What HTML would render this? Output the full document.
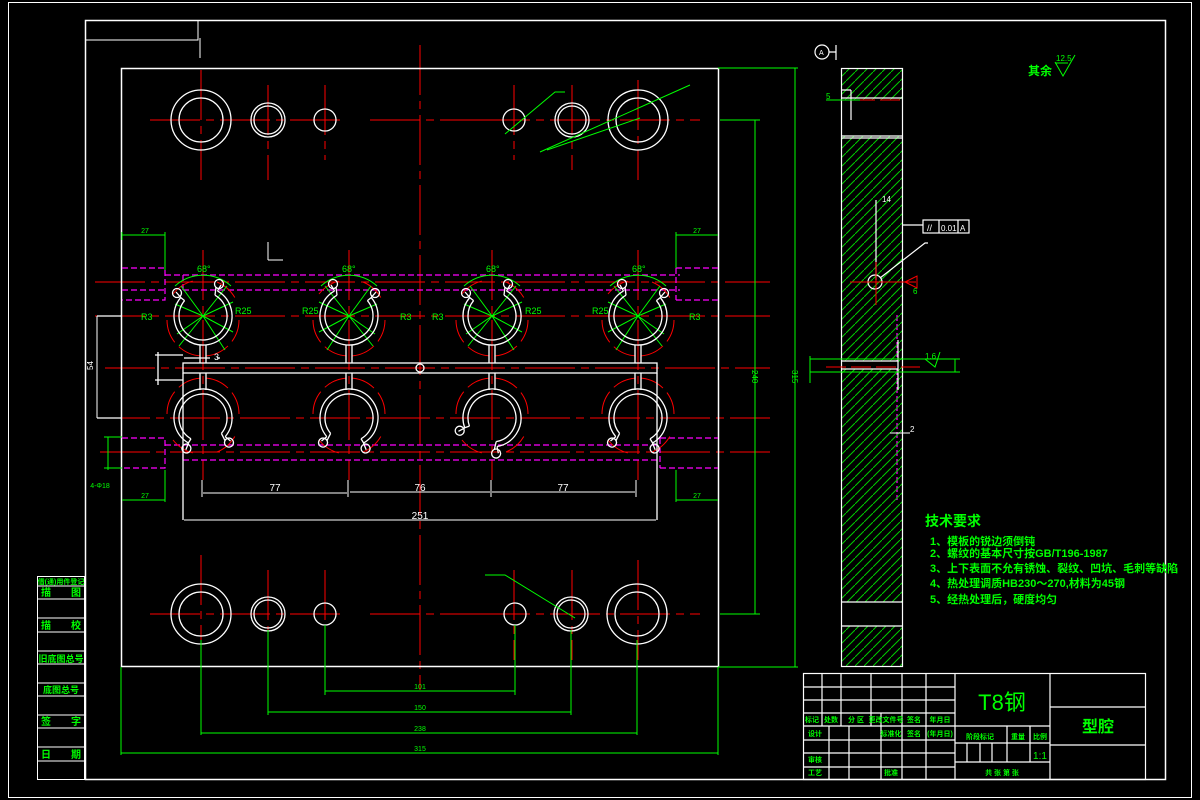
<!DOCTYPE html>
<html><head><meta charset="utf-8"><style>
html,body{margin:0;padding:0;background:#000;}
svg{display:block}
text{font-family:"Liberation Sans","Noto Sans CJK SC",sans-serif;}
</style></head><body>
<svg width="1200" height="800" viewBox="0 0 1200 800" xmlns="http://www.w3.org/2000/svg">
<defs>
<pattern id="h" width="9" height="9" patternUnits="userSpaceOnUse">
<path d="M-2,11 L11,-2" stroke="#0c0" stroke-width="1"/>
</pattern>
<g id="ring" fill="none" stroke="#fff" stroke-width="1.3">
<path d="M14.5,-25.1 A29,29 0 1 1 -22.2,-18.6"/>
<path d="M12,-20.8 A24,24 0 1 1 -18.4,-15.4"/>
<path d="M14.5,-25.1 L18,-31 M12,-20.8 L13,-29 M-22.2,-18.6 L-27,-24 M-18.4,-15.4 L-23,-19"/>
<circle cx="16" cy="-32" r="4.5"/><circle cx="-26" cy="-23" r="4.5"/>
</g>
<g id="redarc" fill="none" stroke="#f00" stroke-width="1" stroke-dasharray="24 6">
<path d="M-36,4 A36,36 0 0 0 36,4"/>
<path d="M-30,-22 A37,37 0 0 1 -10,-35"/>
<path d="M14,-34 A37,37 0 0 1 34,-14"/>
</g>
<g id="grn" stroke="#0f0" stroke-width="1" fill="none">
<path d="M0,0 L-22,-30 M0,0 L24,-30 M0,0 L-28,-12 M0,0 L-26,18 M0,0 L30,-14 M0,0 L30,16 M0,0 L22,34 M0,0 L-24,30"/>
<path d="M-28,-30 A42,42 0 0 1 28,-30"/>
</g>
</defs>

<rect x="8.5" y="2.5" width="1183" height="795" fill="none" stroke="#fff" stroke-width="1"/>
<rect x="85.5" y="20.5" width="1080" height="759" fill="none" stroke="#fff" stroke-width="1.5"/>
<path d="M85,40 H198 V20 M200,38 V58" stroke="#fff" stroke-width="1" fill="none"/>

<g stroke="#fff" stroke-width="1" fill="none">
<rect x="37.5" y="576.5" width="47" height="203"/>
<path d="M37,586H85 M37,599H85 M37,618H85 M37,632H85 M37,651H85 M37,664H85 M37,683H85 M37,696H85 M37,715H85 M37,728H85 M37,747H85 M37,761H85"/>
</g>
<g fill="#0f0" font-size="10" font-weight="bold" text-anchor="middle">
<text x="61" y="584" font-size="7">借(通)用件登记</text>
<text x="61" y="596">描　　图</text>
<text x="61" y="629">描　　校</text>
<text x="61" y="662" font-size="9">旧底图总号</text>
<text x="61" y="693" font-size="9">底图总号</text>
<text x="61" y="725">签　　字</text>
<text x="61" y="758">日　　期</text>
</g>

<g stroke="#f00" stroke-width="1" fill="none" stroke-dasharray="50 6 8 6">
<path d="M420,45 V690"/>
<path d="M150,120 H345 M370,120 H530 M150,614 H345 M370,614 H530"/>
<path d="M480,120 H700 M480,614 H700"/>
<path d="M201,70 V180 M268,85 V180 M325,85 V160 M514,85 V160 M572,85 V170 M638,80 V180"/>
<path d="M201,555 V660 M268,570 V660 M325,570 V660 M514,570 V660 M572,570 V660 M638,560 V660"/>
<path d="M95,282 H770 M95,316 H770 M105,368 H770 M100,418 H770 M100,452 H770"/>
<path d="M203,250 V480 M349,250 V480 M492,250 V480 M638,250 V480"/>
</g>
<path d="M720,120 H760" stroke="#f00" stroke-width="1"/>

<rect x="121.5" y="68.5" width="597" height="598" fill="none" stroke="#fff" stroke-width="1.5"/>
<g fill="none" stroke="#fff" stroke-width="1.3">
<circle cx="201" cy="120" r="30"/><circle cx="201" cy="120" r="22"/>
<circle cx="268" cy="120" r="17"/><circle cx="268" cy="120" r="14"/>
<circle cx="325" cy="120" r="11"/>
<circle cx="514" cy="120" r="11"/>
<circle cx="572" cy="120" r="17"/><circle cx="572" cy="120" r="14"/>
<circle cx="638" cy="120" r="30"/><circle cx="638" cy="120" r="22"/>
<circle cx="201" cy="614" r="30"/><circle cx="201" cy="614" r="22"/>
<circle cx="268" cy="614" r="17"/><circle cx="268" cy="614" r="14"/>
<circle cx="325" cy="614" r="11"/>
<circle cx="515" cy="614" r="11"/>
<circle cx="571" cy="614" r="17"/><circle cx="571" cy="614" r="14"/>
<circle cx="637" cy="614" r="30"/><circle cx="637" cy="614" r="22"/>
</g>
<path d="M268,260 H283 M268,242 V260" stroke="#fff" fill="none"/>

<g stroke="#f0f" stroke-width="1.2" fill="none" stroke-dasharray="6 3">
<path d="M122,268 H165 V300 H122 M165,275 H183 V290 M122,290 H165"/>
<path d="M183,275 H680 M183,290 H680"/>
<path d="M122,438 H165 V468 H122 M165,445 H183 V460 M183,445 H660 M183,460 H660 M660,438 H718 M660,468 H718 M660,438 V468"/>
<path d="M676,268 H718 M676,300 H718 M676,268 V300"/>
<path d="M897,315 V500"/>
</g>

<g>
<use href="#redarc" transform="translate(203,316)"/><use href="#redarc" transform="translate(349,316)"/>
<use href="#redarc" transform="translate(492,316)"/><use href="#redarc" transform="translate(638,316)"/>
<use href="#redarc" transform="translate(203,418) scale(1,-1)"/><use href="#redarc" transform="translate(349,418) scale(1,-1)"/>
<use href="#redarc" transform="translate(492,418) scale(1,-1)"/><use href="#redarc" transform="translate(638,418) scale(1,-1)"/>
<use href="#grn" transform="translate(203,316)"/><use href="#grn" transform="translate(349,316) scale(-1,1)"/>
<use href="#grn" transform="translate(492,316)"/><use href="#grn" transform="translate(638,316) scale(-1,1)"/>
<use href="#ring" transform="translate(203,316)"/><use href="#ring" transform="translate(349,316) scale(-1,1)"/>
<use href="#ring" transform="translate(492,316)"/><use href="#ring" transform="translate(638,316) scale(-1,1)"/>
<use href="#ring" transform="translate(203,418) scale(1,-1) rotate(20)"/><use href="#ring" transform="translate(349,418) scale(-1,-1) rotate(20)"/>
<use href="#ring" transform="translate(492,418) scale(1,-1) rotate(-20)"/><use href="#ring" transform="translate(638,418) scale(-1,-1) rotate(20)"/>
</g>
<g fill="#0f0" font-size="9">
<text x="197" y="272">68°</text><text x="342" y="272">68°</text><text x="486" y="272">68°</text><text x="632" y="272">68°</text>
<text x="235" y="314">R25</text><text x="302" y="314">R25</text><text x="525" y="314">R25</text><text x="592" y="314">R25</text>
<text x="141" y="320">R3</text><text x="400" y="320">R3</text><text x="432" y="320">R3</text><text x="689" y="320">R3</text>
</g>

<g stroke="#fff" stroke-width="1.3" fill="none">
<rect x="183" y="363" width="474" height="10"/>
<path d="M200,345 V363 M206,345 V363 M346,345 V363 M352,345 V363 M489,345 V363 M495,345 V363 M635,345 V363 M641,345 V363"/>
<path d="M200,373 V390 M206,373 V390 M346,373 V390 M352,373 V390 M489,373 V390 M495,373 V390 M635,373 V390 M641,373 V390"/>
<path d="M183,373 V520 M657,373 V520"/>
<path d="M155,355 H183 M155,380 H183 M158,352 V385 M97,316 H122 M97,418 H122"/>
<circle cx="420" cy="368" r="4"/>
<path d="M184,358 H210 M217,358 H220"/>
</g>
<text x="214" y="360" fill="#fff" font-size="9">3</text>

<g stroke="#fff" stroke-width="1" fill="none">
<path d="M202,480 V497 M348,480 V497 M491,480 V497 M636,480 V497"/>
<path d="M203,493 H347 M350,492 H490 M492,492 H635 M184,520 H656"/>
</g>
<g fill="#fff" font-size="10" text-anchor="middle">
<text x="275" y="491">77</text><text x="420" y="491">76</text><text x="563" y="491">77</text><text x="420" y="519">251</text>
</g>
<path d="M97,316 V418" stroke="#fff" fill="none"/>
<text x="93" y="370" fill="#fff" font-size="8" transform="rotate(-90 93 370)">54</text>

<g stroke="#0f0" stroke-width="1" fill="none">
<path d="M122,235 H165 M165,232 V270 M122,232 V240"/>
<path d="M676,235 H718 M676,232 V268"/>
<path d="M122,500 H165 M165,470 V502 M676,500 H718 M676,470 V502"/>
<path d="M108,437 V470 M104,437 H122 M104,468 H122"/>
<path d="M718,68 H798 M795,68 V667 M718,667 H798"/>
<path d="M720,120 H760 M755,120 V614 M720,614 H760"/>
<path d="M121,667 V755 M121,753 H718 M718,667 V755"/>
<path d="M201,640 V735 M201,733 H637 M637,640 V735"/>
<path d="M268,630 V715 M268,712 H571 M571,630 V715"/>
<path d="M325,625 V695 M325,691 H515 M515,625 V695"/>
<path d="M505,134 L555,92 H565 M540,152 L690,85 M547,150 L640,118"/>
<path d="M485,575 H505 L575,618"/>
</g>
<g fill="#0f0" font-size="7" text-anchor="middle">
<text x="145" y="233">27</text><text x="697" y="233">27</text><text x="145" y="498">27</text><text x="697" y="498">27</text>
<text x="420" y="689">101</text><text x="420" y="710">150</text><text x="420" y="731">238</text><text x="420" y="751">315</text>
<text x="100" y="488">4-Φ18</text>
</g>
<text x="752" y="370" fill="#0f0" font-size="8" transform="rotate(90 752 370)">240</text>
<text x="792" y="370" fill="#0f0" font-size="8" transform="rotate(90 792 370)">315</text>

<rect x="841" y="68" width="62" height="599" fill="url(#h)"/>
<rect x="842" y="100" width="60" height="36" fill="#000"/>
<rect x="842" y="602" width="60" height="24" fill="#000"/>
<rect x="842" y="361" width="56" height="8" fill="#000"/>
<g stroke="#fff" stroke-width="1.2" fill="none">
<rect x="841.5" y="68.5" width="61" height="598"/>
<path d="M841,98 H903 M841,136 H903 M841,138 H903 M851,90 V120 M841,90 H851"/>
<path d="M841,602 H903 M841,626 H903 M841,361 H898 M841,369 H898 M898,340 V390"/>
<path d="M876,200 V280 M903,225 H923"/>
<circle cx="875" cy="282" r="7"/>
<path d="M880,278 L925,243 H928"/>
<rect x="923" y="220" width="46" height="13"/><path d="M939,220 V233 M958,220 V233"/>
<circle cx="822" cy="52" r="7"/><path d="M829,52 H836 M836,45 V60"/>
</g>
<text x="927" y="231" fill="#fff" font-size="9">//</text>
<text x="941" y="231" fill="#fff" font-size="8">0.01</text>
<text x="960" y="231" fill="#fff" font-size="8">A</text>
<text x="819" y="55" fill="#fff" font-size="7">A</text>
<path d="M830,100 H903 M826,367 H920" stroke="#f00" stroke-dasharray="20 5" fill="none"/>
<path d="M850,282 H916 M876,262 V305 M905,282 L917,276 V288 Z" stroke="#f00" fill="none"/>
<g stroke="#0f0" stroke-width="1" fill="none">
<path d="M826,100 H860 M810,356 V383 M810,359 H960 M810,372 H960 M955,359 V372 M925,359 L935,367 L940,352"/>
</g>
<g fill="#0f0" font-size="8">
<text x="826" y="99">5</text><text x="925" y="359">1.6</text><text x="913" y="294">6</text>
</g>
<text x="882" y="202" fill="#fff" font-size="8">14</text>
<text x="910" y="432" fill="#fff" font-size="8">2</text>
<path d="M890,433 H910" stroke="#fff"/>
<text x="1028" y="75" fill="#0f0" font-size="12" font-weight="bold">其余</text>
<path d="M1055,62 L1063,76 L1075,55 M1055,63 H1068" stroke="#0f0" fill="none"/>
<text x="1056" y="61" fill="#0f0" font-size="8">12.5</text>

<g fill="#0f0" font-weight="bold">
<text x="925" y="526" font-size="14">技术要求</text>
<g font-size="11">
<text x="930" y="545">1、模板的锐边须倒钝</text>
<text x="930" y="557">2、螺纹的基本尺寸按GB/T196-1987</text>
<text x="930" y="572">3、上下表面不允有锈蚀、裂纹、凹坑、毛刺等缺陷</text>
<text x="930" y="587">4、热处理调质HB230～270,材料为45钢</text>
<text x="930" y="603">5、经热处理后，硬度均匀</text>
</g></g>

<g stroke="#fff" stroke-width="1.2" fill="none">
<rect x="803.5" y="673.5" width="342" height="106"/>
<path d="M803,687 H955 M803,700 H955 M803,713 H955 M803,726 H955 M803,740 H955 M803,753 H955 M803,767 H955"/>
<path d="M822,673 V726 M841,673 V726 M871,673 V726 M902,673 V780 M926,673 V780"/>
<path d="M829,726 V780 M849,726 V780 M881,713 V780"/>
<path d="M955,673 V780 M955,726 H1050 M955,743 H1050 M955,762 H1050 M1050,673 V780 M1050,707 H1146 M1050,745 H1146"/>
<path d="M1007,726 V762 M1030,726 V762 M967,743 V762 M980,743 V762 M992,743 V762"/>
</g>
<g fill="#0f0" font-size="7" font-weight="bold" text-anchor="middle">
<text x="812" y="722">标记</text><text x="831" y="722">处数</text><text x="856" y="722">分 区</text><text x="886" y="722">更改文件号</text><text x="914" y="722">签名</text><text x="940" y="722">年月日</text>
<text x="815" y="736">设计</text><text x="891" y="736">标准化</text><text x="914" y="736">签名</text><text x="940" y="736">(年月日)</text>
<text x="815" y="762">审核</text><text x="815" y="775">工艺</text><text x="891" y="775">批准</text>
<text x="980" y="739">阶段标记</text><text x="1018" y="739">重量</text><text x="1040" y="739">比例</text>
<text x="1002" y="775">共 张 第 张</text>
</g>
<text x="1040" y="759" fill="#0f0" font-size="10" text-anchor="middle">1:1</text>
<text x="1002" y="710" fill="#0f0" font-size="22" text-anchor="middle">T8钢</text>
<text x="1098" y="732" fill="#0f0" font-size="16" font-weight="bold" text-anchor="middle">型腔</text>
</svg>
</body></html>
